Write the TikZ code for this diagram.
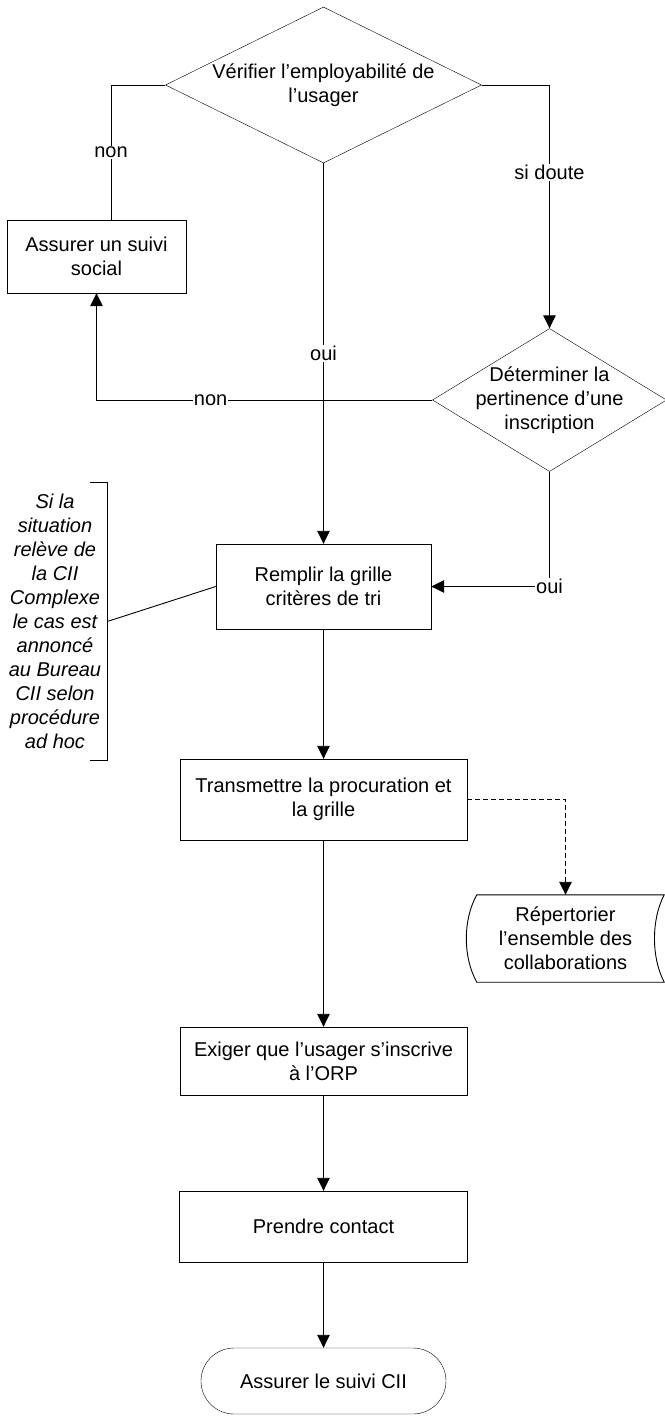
\documentclass[tikz,border=0pt]{standalone}
\usepackage{fontspec}
\setmainfont{Liberation Sans}
\usepackage{tikz}
\usetikzlibrary{calc,shapes,arrows.meta,positioning}
\newcommand{\txtsize}{\fontsize{20}{24}\selectfont}
\tikzstyle{decision}=[draw, diamond, inner sep=0, align=center, font=\txtsize]
\tikzstyle{process}=[draw, rectangle, inner sep=0, align=center, font=\txtsize]
\tikzstyle{terminal}=[draw, rounded rectangle, inner sep=0, align=center, font=\txtsize]
\tikzstyle{note}=[inner sep=0, align=center, font=\txtsize\itshape]
\tikzstyle{lbl}=[fill=white, inner sep=1pt, font=\txtsize]
\tikzstyle{arrow}=[-{Triangle[length=13pt,width=12.5pt]}, line width=0.9pt]
\tikzstyle{edge}=[-, line width=0.9pt]

\begin{document}
\begin{tikzpicture}[x=1pt, y=-1pt]
  \useasboundingbox (0,0) rectangle (664,1416);

  \node[decision, aspect=2.03, minimum width=316pt, minimum height=156pt] (verif) at (323.5,85) {V\'erifier l'employabilit\'e de\\l'usager};
  \node[process, minimum width=179pt, minimum height=73pt] (social) at (96.5,256.5) {Assurer un suivi\\social};
  \node[decision, aspect=1.64, inner sep=-5pt, minimum width=234pt, minimum height=143pt] (pertin) at (549.5,400) {D\'eterminer la\\pertinence d'une\\inscription};

  \node[process, minimum width=215pt, minimum height=85pt] (grille) at (323.5,586.5) {Remplir la grille\\crit\`eres de tri};
  \node[note, minimum width=104pt, minimum height=277pt] (remarque) at (55,621.5) {Si la\\situation\\rel\`eve de\\la CII\\Complexe\\le cas est\\annonc\'e\\au Bureau\\CII selon\\proc\'edure\\ad hoc};

  \node[process, minimum width=287pt, minimum height=81pt] (transm) at (323.5,799.5) {Transmettre la procuration et\\la grille};
  \node[inner sep=0, align=center, font=\txtsize, minimum width=197pt, minimum height=87pt] (repert) at (565.5,938.5) {R\'epertorier\\l'ensemble des\\collaborations};
  \node[process, minimum width=287pt, minimum height=68pt] (orp) at (323.5,1061) {Exiger que l'usager s'inscrive\\\`a l'ORP};
  \node[process, minimum width=288pt, minimum height=71pt] (contact) at (323.5,1226.5) {Prendre contact};
  \node[terminal, minimum width=245pt, minimum height=66pt] (suivi) at (323.5,1381) {Assurer le suivi CII};

  % stockage
  \draw[edge] ($(repert.north west)+(10,0)$) -- (repert.north east)
    .. controls ($(repert.north east)+(-13,25)$) and ($(repert.south east)+(-13,-25)$) .. (repert.south east)
    -- ($(repert.south west)+(10,0)$)
    .. controls ($(repert.south west)+(-4,-25)$) and ($(repert.north west)+(-4,25)$) .. cycle;

  % remarque
  \draw[edge] ($(remarque.north east)+(-17,0)$) -- (remarque.north east) -- (remarque.south east) -- ($(remarque.south east)+(-17,0)$);
  \draw[edge] (remarque.east) -- (grille.west);

  \draw[edge] (verif.west) -| ([xshift=14.5pt]social.north) node[lbl, pos=0.75] {non};
  \draw[arrow] (verif.east) -| (pertin.north) node[lbl, pos=0.68] {si doute};
  \draw[arrow] (verif.south) to node[lbl] {oui} (grille.north);
  \draw[arrow] (pertin.west) -| (social.south) node[lbl, pos=0.33] {non};
  \draw[arrow] (pertin.south) |- (grille.east) node[lbl, pos=0.5] {oui};

  \draw[arrow] (grille) to (transm);
  \draw[arrow, dash pattern=on 5pt off 3pt] (transm.east) -| (repert.north);
  \draw[arrow] (transm) to (orp);
  \draw[arrow] (orp) to (contact);
  \draw[arrow] (contact) to (suivi);
\end{tikzpicture}
\end{document}
